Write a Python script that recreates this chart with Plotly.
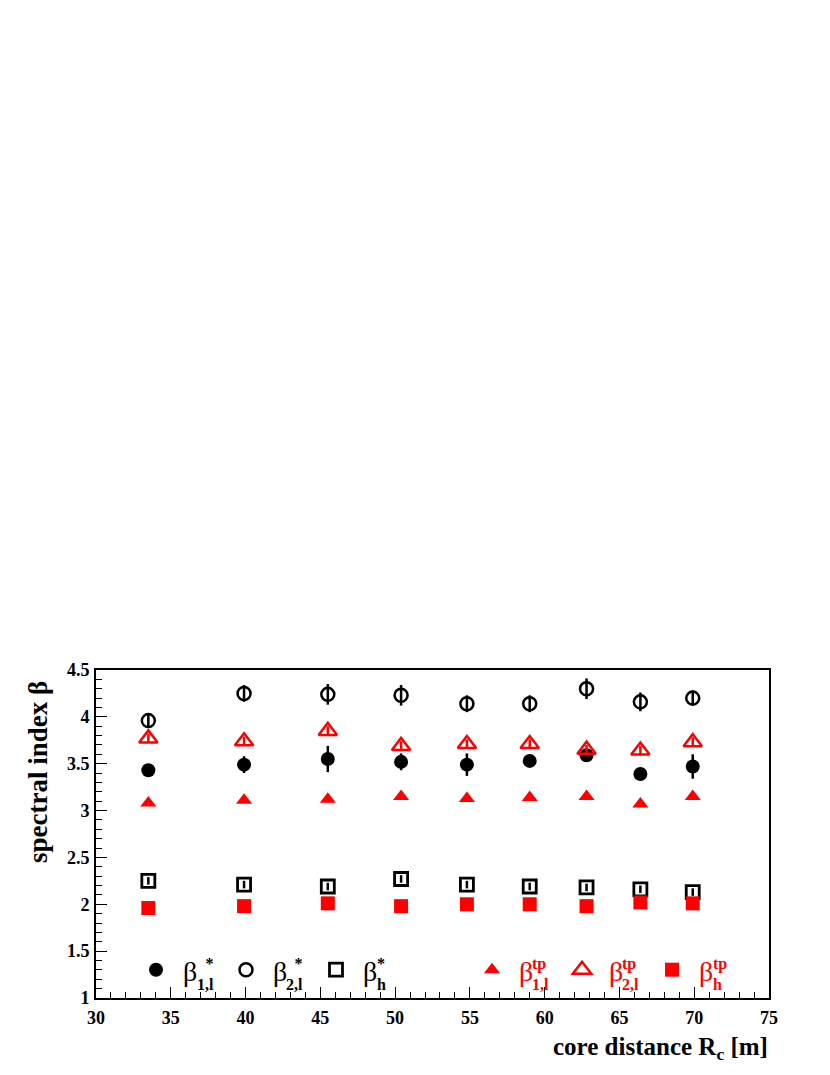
import plotly.graph_objects as go

# ---------------- data ----------------
core_distance = [33.5, 39.9, 45.5, 50.4, 54.8, 59.0, 62.8, 66.4, 69.9]

beta1l_star = [3.43, 3.49, 3.55, 3.52, 3.49, 3.53, 3.59, 3.39, 3.47]
beta1l_star_err = [0.04, 0.09, 0.14, 0.09, 0.12, 0.05, 0.05, 0.04, 0.13]

beta2l_star = [3.96, 4.25, 4.24, 4.23, 4.14, 4.14, 4.30, 4.16, 4.20]
beta2l_star_err = [0.08, 0.09, 0.11, 0.11, 0.09, 0.09, 0.11, 0.10, 0.08]

betah_star = [2.25, 2.21, 2.19, 2.27, 2.21, 2.19, 2.18, 2.16, 2.13]
betah_star_err = [0.04, 0.04, 0.04, 0.04, 0.04, 0.04, 0.04, 0.04, 0.04]

beta1l_tp = [3.08, 3.11, 3.12, 3.15, 3.13, 3.14, 3.15, 3.07, 3.15]
beta1l_tp_err = [0.03, 0.03, 0.03, 0.03, 0.03, 0.03, 0.03, 0.03, 0.03]

beta2l_tp = [3.77, 3.74, 3.85, 3.69, 3.71, 3.71, 3.65, 3.64, 3.73]
beta2l_tp_err = [0.05, 0.05, 0.05, 0.05, 0.05, 0.05, 0.05, 0.05, 0.05]

betah_tp = [1.96, 1.98, 2.01, 1.98, 2.00, 2.00, 1.98, 2.02, 2.01]
betah_tp_err = [0.02, 0.02, 0.02, 0.02, 0.02, 0.02, 0.02, 0.02, 0.02]

x_ticks = [30, 35, 40, 45, 50, 55, 60, 65, 70, 75]
y_ticks = [1, 1.5, 2, 2.5, 3, 3.5, 4, 4.5]

# legend labels: (base, subscript, superscript)
legend_labels = [
    ("β", "1,l", "*"),
    ("β", "2,l", "*"),
    ("β", "h", "*"),
    ("β", "1,l", "tp"),
    ("β", "2,l", "tp"),
    ("β", "h", "tp"),
]

# ---------------- layout helpers ----------------
OFF = 8                      # page body margin
W, H = 830 - 2 * OFF, 1075 - 2 * OFF
L, R, T, B = 96, 769, 670, 998   # plot frame in page pixels
PW, PH = R - L, B - T


def px(x):
    return (x - L) / PW


def py(y):
    return (B - y) / PH


FONT = "Liberation Serif"
BLACK = "#000000"
RED = "#ff0000"

fig = go.Figure()

series = [
    (beta1l_star, beta1l_star_err, "circle", 14, BLACK, 0, "legend"),
    (beta2l_star, beta2l_star_err, "circle-open", 13, BLACK, 2.5, "legend"),
    (betah_star, betah_star_err, "square-open", 13, BLACK, 2.8, "legend"),
    (beta1l_tp, beta1l_tp_err, "triangle-up", 14, RED, 0, "legend2"),
    (beta2l_tp, beta2l_tp_err, "triangle-up-open", 16, RED, 2.5, "legend2"),
    (betah_tp, betah_tp_err, "square", 14, RED, 0, "legend2"),
]

for (vals, errs, sym, size, col, lw, leg), (base, _, _) in zip(series, legend_labels):
    fig.add_trace(go.Scatter(
        x=core_distance, y=vals, mode="markers", name=base,
        marker=dict(symbol=sym, size=size, color=col,
                    line=dict(width=lw, color=col)),
        error_y=dict(type="data", array=errs, visible=True, color=col,
                     thickness=2.5, width=0),
        legend=leg, showlegend=True,
    ))

# stacked super/subscripts of the legend labels (one two-line text each)
label_pos = [
    # left edge, alignment, color
    (198, "right", BLACK),
    (287, "right", BLACK),
    (378, "left", BLACK),
    (533, "left", RED),
    (623, "left", RED),
    (714, "left", RED),
]

annotations = []
for (base, sub, sup), (lx, al, col) in zip(legend_labels, label_pos):
    annotations.append(dict(
        text=f"<b>{sup}</b><br><b>{sub}</b>", align=al,
        x=px(lx - 3), y=py(974), xref="paper", yref="paper",
        xanchor="left", yanchor="middle", showarrow=False,
        font=dict(family=FONT, size=16, color=col)))

# axis titles
annotations.append(dict(
    text="spectral index β", textangle=-90,
    x=px(38), y=py(679), xref="paper", yref="paper",
    xanchor="center", yanchor="top", showarrow=False,
    font=dict(family=FONT, size=27, color=BLACK, weight="bold")))
annotations.append(dict(
    text="core distance R<sub>c</sub> [m]",
    x=px(770), y=py(1031), xref="paper", yref="paper",
    xanchor="right", yanchor="top", showarrow=False,
    font=dict(family=FONT, size=25, color=BLACK, weight="bold")))

tickfont = dict(family=FONT, size=18, color=BLACK, weight="bold")

legend_common = dict(
    orientation="h", yanchor="middle", xanchor="left",
    itemwidth=44, entrywidth=31, entrywidthmode="pixels",
    bgcolor="rgba(0,0,0,0)", borderwidth=0,
)

fig.update_layout(
    width=W, height=H,
    margin=dict(l=L - OFF, r=W - (R - OFF), t=T - OFF, b=H - (B - OFF), pad=0),
    paper_bgcolor="white", plot_bgcolor="white",
    annotations=annotations,
    xaxis=dict(
        range=[30, 75], tickmode="array", tickvals=x_ticks,
        ticktext=[str(v) for v in x_ticks],
        ticks="inside", ticklen=11, tickwidth=1, tickcolor=BLACK,
        minor=dict(ticks="inside", ticklen=6, dtick=1, tick0=30,
                   tickcolor=BLACK, tickwidth=1),
        showline=True, linecolor=BLACK, linewidth=2, mirror=True,
        showgrid=False, zeroline=False, tickfont=tickfont,
        ticklabelstandoff=2,
    ),
    yaxis=dict(
        range=[1, 4.5], tickmode="array", tickvals=y_ticks,
        ticktext=[f"{v:g}" for v in y_ticks],
        ticks="inside", ticklen=11, tickwidth=1, tickcolor=BLACK,
        minor=dict(ticks="inside", ticklen=6, dtick=0.1, tick0=1,
                   tickcolor=BLACK, tickwidth=1),
        showline=True, linecolor=BLACK, linewidth=2, mirror=True,
        showgrid=False, zeroline=False, tickfont=tickfont,
        ticklabelstandoff=1,
    ),
    legend=dict(x=px(129), y=py(970),
                font=dict(family=FONT, size=28, color=BLACK), **legend_common),
    legend2=dict(x=px(465), y=py(970),
                 font=dict(family=FONT, size=28, color=RED), **legend_common),
    showlegend=True,
)

fig.write_html("out.html")
